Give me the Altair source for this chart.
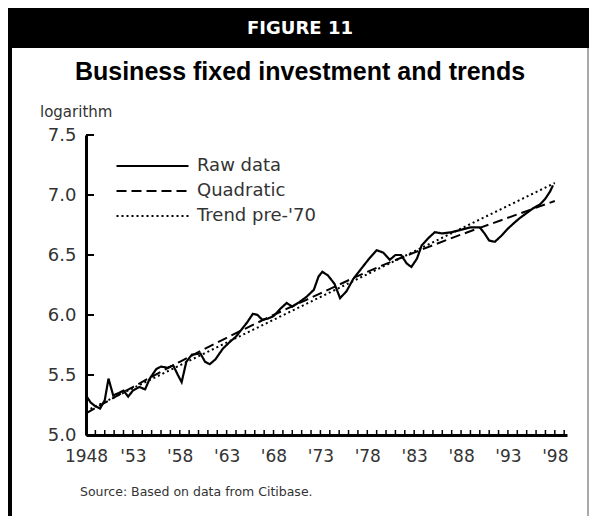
import altair as alt
import pandas as pd

# ---- data ----
raw_years = [1948.0, 1948.5, 1949.0, 1949.5, 1950.0, 1950.4, 1950.9, 1951.5, 1952.0, 1952.5,
             1953.0, 1953.7, 1954.3, 1954.8, 1955.5, 1956.0, 1956.7, 1957.3, 1957.8, 1958.2,
             1958.7, 1959.3, 1960.2, 1960.7, 1961.2, 1961.8, 1962.6, 1963.4, 1964.0, 1964.6,
             1965.2, 1965.8, 1966.3, 1966.8, 1967.4, 1968.0, 1968.7, 1969.4, 1970.0, 1970.8,
             1971.5, 1972.3, 1972.8, 1973.2, 1973.8, 1974.5, 1975.1, 1975.8, 1976.5, 1977.3,
             1978.2, 1979.0, 1979.7, 1980.4, 1981.0, 1981.6, 1982.2, 1982.7, 1983.3, 1983.8,
             1984.5, 1985.2, 1986.0, 1987.0, 1988.0, 1989.0, 1990.0, 1990.5, 1991.0, 1991.6,
             1992.3, 1993.0, 1993.7, 1994.3, 1995.0, 1995.7, 1996.4, 1997.0, 1997.5, 1997.8]
raw_values = [5.33, 5.27, 5.24, 5.22, 5.29, 5.47, 5.33, 5.35, 5.37, 5.32,
              5.37, 5.40, 5.38, 5.47, 5.55, 5.57, 5.56, 5.58, 5.50, 5.44,
              5.61, 5.67, 5.68, 5.61, 5.59, 5.63, 5.72, 5.78, 5.82, 5.88,
              5.94, 6.01, 6.00, 5.96, 5.97, 5.99, 6.05, 6.10, 6.07, 6.11,
              6.15, 6.21, 6.32, 6.36, 6.33, 6.26, 6.14, 6.20, 6.30, 6.38,
              6.47, 6.54, 6.52, 6.46, 6.50, 6.50, 6.43, 6.40, 6.47, 6.58,
              6.64, 6.69, 6.68, 6.69, 6.71, 6.73, 6.73, 6.68, 6.62, 6.61,
              6.66, 6.72, 6.77, 6.81, 6.85, 6.89, 6.92, 6.97, 7.03, 7.08]

quad_years = [1948, 1953, 1958, 1963, 1968, 1973, 1978, 1983, 1988, 1993, 1998]
quad_values = [5.18, 5.40, 5.61, 5.81, 6.00, 6.18, 6.36, 6.52, 6.67, 6.81, 6.95]

trend_years = [1948, 1998]
trend_values = [5.20, 7.10]

series_names = ["Raw data", "Quadratic", "Trend pre-'70"]
x_label_years = [1948, 1953, 1958, 1963, 1968, 1973, 1978, 1983, 1988, 1993, 1998]
x_tick_years = list(range(1948, 2000))
y_ticks = [5.0, 5.5, 6.0, 6.5, 7.0, 7.5]

header_text = "FIGURE 11"
title_text = "Business fixed investment and trends"
unit_text = "logarithm"
source_text = "Source: Based on data from Citibase."

# ---- build tables ----
raw_df = pd.DataFrame({"year": raw_years, "value": raw_values, "series": series_names[0]})
quad_df = pd.DataFrame({"year": quad_years, "value": quad_values, "series": series_names[1]})
trend_df = pd.DataFrame({"year": trend_years, "value": trend_values, "series": series_names[2]})

W, H = 481, 300
PL, PT, PR, PB = 78, 127, 22, 81

xscale = alt.Scale(domain=[1948, 1999.3], nice=False, zero=False)
yscale = alt.Scale(domain=[5.0, 7.5], nice=False, zero=False)

dash = alt.StrokeDash(
    "series:N",
    scale=alt.Scale(domain=series_names, range=[[1, 0], [10, 5], [2, 3]]),
    legend=alt.Legend(orient="none", legendX=29, legendY=21, title=None,
                      symbolType="stroke", symbolSize=5184, symbolStrokeWidth=2.2,
                      symbolStrokeColor="black", clipHeight=20, rowPadding=5,
                      labelFont="DejaVu Sans", labelFontSize=18, labelColor="#333",
                      labelOffset=7),
)

x_enc = alt.X("year:Q", scale=xscale,
              axis=alt.Axis(values=x_label_years, title=None, ticks=False, grid=False,
                            domainWidth=3, domainColor="black", labelPadding=13,
                            labelOverlap=False, labelFlush=False, labelBound=False,
                            labelFont="DejaVu Sans", labelFontSize=17, labelColor="#333",
                            labelExpr="datum.value == 1948 ? '1948' : \"'\" + substring(toString(datum.value), 2, 4)"))
y_enc = alt.Y("value:Q", scale=yscale,
              axis=alt.Axis(values=y_ticks, format=".1f", title=None, ticks=False, grid=False,
                            domainWidth=3, domainColor="black", labelPadding=10,
                            labelOverlap=False, labelFlush=False,
                            labelFont="DejaVu Sans", labelFontSize=18, labelColor="#333"))

raw_line = alt.Chart(raw_df).mark_line(color="black", strokeWidth=2.2, clip=False).encode(
    x=x_enc, y=y_enc, strokeDash=dash, detail="series:N")
trend_lines = alt.Chart(pd.concat([quad_df, trend_df])).mark_line(
    color="black", strokeWidth=2.0, interpolate="monotone").encode(
    x=alt.X("year:Q", scale=xscale), y=alt.Y("value:Q", scale=yscale),
    strokeDash=dash, detail="series:N")

xt = alt.Chart(pd.DataFrame({"year": x_tick_years})).mark_rule(color="black", strokeWidth=1.5).encode(
    x=alt.X("year:Q", scale=xscale), y=alt.value(H), y2=alt.value(H - 5))
yt = alt.Chart(pd.DataFrame({"value": y_ticks})).mark_rule(color="black", strokeWidth=2).encode(
    y=alt.Y("value:Q", scale=yscale), x=alt.value(0), x2=alt.value(8))

one = pd.DataFrame({"a": [0]})
band = alt.Chart(one).mark_rect(color="black").encode(
    x=alt.value(-PL), x2=alt.value(W + PR), y=alt.value(-PT), y2=alt.value(-PT + 40))
left_border = alt.Chart(one).mark_rect(color="black").encode(
    x=alt.value(-PL), x2=alt.value(-PL + 4), y=alt.value(-PT + 40), y2=alt.value(H + PB))
right_border = alt.Chart(one).mark_rect(color="#aaa").encode(
    x=alt.value(W + PR - 2), x2=alt.value(W + PR), y=alt.value(-PT + 40), y2=alt.value(H + PB))

def label(txt, x, y, size, weight="normal", color="#333", font="DejaVu Sans", align="left"):
    return alt.Chart(pd.DataFrame({"t": [txt]})).mark_text(
        font=font, fontSize=size, fontWeight=weight, color=color, align=align,
        baseline="middle").encode(text="t:N", x=alt.value(x), y=alt.value(y))

header = label(header_text, 214, -PT + 21, 18, "bold", "white", align="center")
title = label(title_text, 214, -63, 25, "bold", "black", font="Liberation Sans", align="center")
unit = label(unit_text, -46, -23, 15)
source = label(source_text, -6, 357, 12.5)

chart = alt.layer(band, left_border, right_border, header, title, unit, source,
                  trend_lines, raw_line, xt, yt).properties(
    width=W, height=H,
    padding={"left": PL, "top": PT, "right": PR, "bottom": PB},
    autosize=alt.AutoSizeParams(type="none"),
    background="white",
).configure_view(stroke=None)

chart.save("out.html", embed_options={"renderer": "svg", "actions": False})
